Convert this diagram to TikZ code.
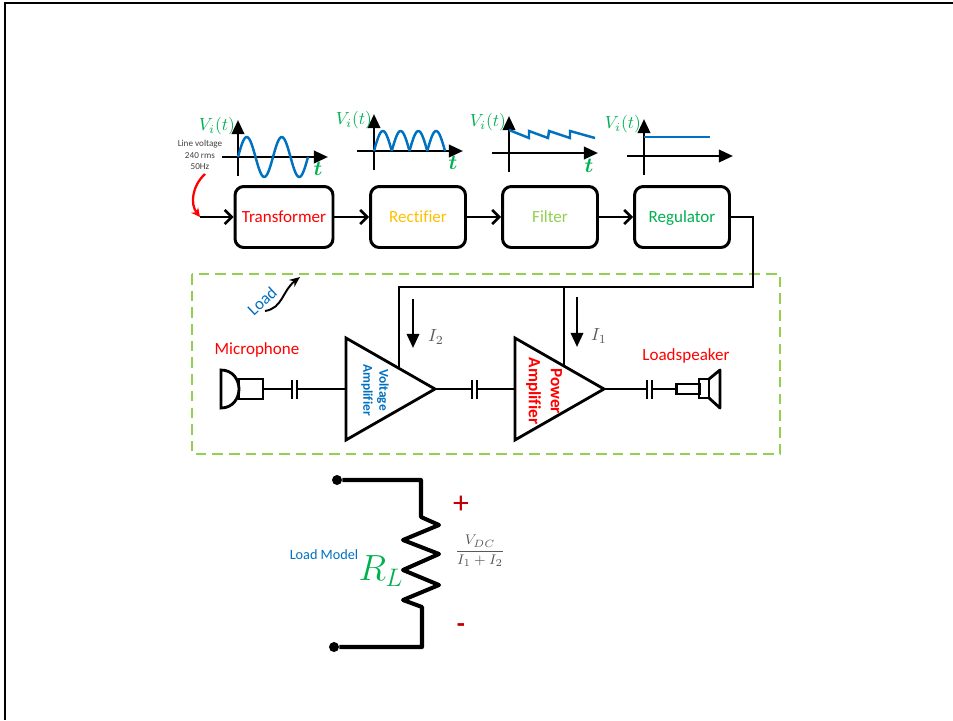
\documentclass[tikz,border=0pt]{standalone}
\usepackage{amsmath,amssymb}
\usepackage{fontspec}
\setmainfont[Ligatures=CommonOff]{Carlito}
\usepackage{tikz}
\usetikzlibrary{arrows.meta,positioning,shapes.geometric,calc}
\definecolor{transred}{RGB}{255,0,0}
\definecolor{rectyellow}{RGB}{255,192,0}
\definecolor{filtgreen}{RGB}{146,208,80}
\definecolor{reggreen}{RGB}{0,176,80}
\definecolor{waveblue}{RGB}{0,112,192}
\definecolor{minusred}{RGB}{192,0,0}
\definecolor{mathgray}{RGB}{89,89,89}
\newcommand{\fsz}[1]{\fontsize{#1}{#1}\selectfont}

\begin{document}
\begin{tikzpicture}[
  x=0.02cm, y=-0.02cm,
  block/.style={draw, line width=1.7pt, rounded corners=5pt, minimum width=1.9cm, minimum height=1.22cm,
                inner sep=0pt, text height=6.2pt, text depth=0pt, font=\fsz{9.7}},
  wire/.style={line width=1.5pt, -{Straight Barb[length=4pt,width=8pt,line width=1.5pt]}},
  plainwire/.style={line width=1.5pt},
  axisline/.style={line width=1.5pt, -{Triangle[length=8pt,width=7pt]}},
  wave/.style={line width=1.4pt, waveblue},
  amp/.style={draw, line width=1.6pt, shape=isosceles triangle, isosceles triangle stretches,
              minimum width=2.04cm, minimum height=1.78cm, inner sep=0pt, outer sep=0pt},
  vlabel/.style={text=reggreen, font=\fsz{10}},
  tlabel/.style={text=reggreen, font=\fsz{13}},
  curr/.style={line width=1.4pt, -{Triangle[length=8pt,width=7pt]}},
]
\useasboundingbox (0,0) rectangle (953,720);

% Slide border
\draw[line width=1.6pt] (953,3) -- (5,3) -- (5,720);

% Blocks
\node[block, text=transred, minimum width=1.96cm] (trans) at (284,217) {Transformer};
\node[block, text=rectyellow] (rect) at (418,217) {Rectifier};
\node[block, text=filtgreen] (filt) at (550,217) {Filter};
\node[block, text=reggreen] (reg) at (682,217) {Regulator};
\coordinate (linein) at (200,217);
\draw[wire] (linein) -- (trans);
\draw[wire] (trans) -- (rect);
\draw[wire] (rect) -- (filt);
\draw[wire] (filt) -- (reg);

% Waveforms
\draw[axisline] (222,157) -- (328,157);
\draw[axisline] (238,176) -- (238,120);
\draw[wave] plot[domain=0:70, samples=80, smooth] ({238+\x},{157-20*sin(\x/35*360)});
\node[vlabel] (v1) at (217,126) {$V_i(t)$};
\node[tlabel] (t1) at (318,169) {$\boldsymbol{t}$};

\draw[axisline] (357,151) -- (463,151);
\draw[axisline] (374,170) -- (374,114);
\foreach \k in {0,...,3} {
  \draw[wave] plot[domain=0:180, samples=30] ({374+\k*17.75+\x/180*17.75},{151-20*sin(\x)});
}
\node[vlabel] (v2) at (354,120) {$V_i(t)$};
\node[tlabel] (t2) at (453,163) {$\boldsymbol{t}$};

\draw[axisline] (492,153) -- (598,153);
\draw[axisline] (509,172) -- (509,116);
\draw[wave] (509,130) -- (529,138) -- (529,131) -- (548,138) -- (549,131) -- (570,138) -- (570,131) -- (595,138);
\node[vlabel] (v3) at (488,122) {$V_i(t)$};
\node[tlabel] (t3) at (589,166) {$\boldsymbol{t}$};

\draw[axisline] (627,156) -- (733,156);
\draw[axisline] (644,175) -- (644,119);
\draw[wave] (644,137) -- (710,137);
\node[vlabel] (v4) at (623,124) {$V_i(t)$};

% Line voltage
\node[align=center, text=black!75, font=\fontsize{5.2}{6.5}\selectfont] (line) at (200,155) {Line voltage\\240 rms\\50Hz};
\draw[line width=1.3pt, transred, -{Stealth[length=5pt,width=5pt]}] (205,174) .. controls (192,186) and (190,204) .. (linein);

% Load box
\draw[filtgreen, line width=0.8pt, dash pattern=on 6pt off 3.5pt] (192,274) rectangle (780,454);
\node[rotate=43, text=waveblue, font=\fsz{9.6}] (load) at (262,301) {Load};
\draw[line width=1.1pt, -{Stealth[length=6pt,width=5pt]}] (265,311) .. controls (283,308) and (282,291) .. (300,277);

% Amplifiers
\node[amp, anchor=lower side] (vamp) at (346,389) {};
\node[amp, anchor=lower side] (pamp) at (515,389) {};
\node[rotate=-90, align=center, text=waveblue, font=\bfseries\fontsize{7.6}{9}\selectfont] (vtxt) at (375,390) {Voltage\\Amplifier};
\node[rotate=-90, align=center, text=transred, font=\bfseries\fontsize{9.8}{12.5}\selectfont] (ptxt) at (544,391) {Power\\Amplifier};

% Supply rail
\coordinate (vtap) at (399,367);
\coordinate (ptap) at (564,365);
\coordinate (railv) at (399,287);
\coordinate (railp) at (564,287);
\draw[plainwire] (reg.east) -| (753,287) -- (railv) -- (vtap);
\draw[plainwire] (railp) -- (ptap);
\draw[curr] (413,299) -- (413,348);
\draw[curr] (577,297) -- (577,347);
\node[text=mathgray, font=\fsz{9.6}] (i2) at (436,337) {$I_2$};
\node[text=mathgray, font=\fsz{9.6}] (i1) at (599,336) {$I_1$};

% Microphone
\draw[line width=1.6pt] (221,370) .. controls (233,370) and (239,380) .. (239,389)
  .. controls (239,398) and (233,408) .. (221,408) -- cycle;
\node[draw, line width=1.6pt, minimum width=0.48cm, minimum height=0.4cm, inner sep=0pt, outer sep=0pt] (micbody) at (251,389) {};
\node[text=transred, font=\fsz{9.7}] (mictxt) at (257,350) {Microphone};

% Capacitors
\foreach \capname/\xa/\xb in {capa/292/297, capb/472/477, capc/647/652} {
  \coordinate (\capname l) at (\xa,389);
  \coordinate (\capname r) at (\xb,389);
  \draw[line width=1.3pt] (\xa,380) -- (\xa,399);
  \draw[line width=1.3pt] (\xb,380) -- (\xb,399);
}
\draw[plainwire] (micbody.east) -- (capal);
\draw[plainwire] (capar) -- (vamp.lower side);
\draw[plainwire] (vamp.apex) -- (capbl);
\draw[plainwire] (capbr) -- (pamp.lower side);
\draw[plainwire] (pamp.apex) -- (capcl);

% Loudspeaker
\node[draw, line width=1.6pt, minimum width=0.46cm, minimum height=0.2cm, inner sep=0pt, outer sep=0pt] (spkbody) at (688,389) {};
\draw[line width=1.6pt] (699,379) rectangle (709,398);
\draw[line width=1.6pt, line join=round] (709,379) -- (720,370) -- (720,408) -- (709,398);
\draw[plainwire] (capcr) -- (spkbody.west);
\node[text=transred, font=\fsz{9.7}] (spktxt) at (686,356) {Loadspeaker};

% Load model
\node[circle, fill, inner sep=0pt, minimum size=0.2cm] (top) at (337,480) {};
\node[circle, fill, inner sep=0pt, minimum size=0.2cm] (bot) at (334,647) {};
\draw[line width=2.3pt, line join=round] (top) -- (421,480) -- (421,517) -- (439,525) -- (403,540) -- (439,554)
  -- (403,570) -- (439,585) -- (403,600) -- (422,607) -- (422,647) -- (bot);
\node[text=waveblue, font=\fsz{8.1}] (modeltxt) at (324,555) {Load Model};
\node[text=reggreen, font=\fsz{20}] (rl) at (381,571) {$R_L$};
\node[text=minusred, font=\fsz{18}] (plus) at (461,505) {+};
\node[text=minusred, font=\bfseries\fsz{15}] (minus) at (461,628) {-};
\node[text=mathgray, font=\fsz{8.5}] (frac) at (480,551) {$\dfrac{V_{DC}}{I_1+I_2}$};
\end{tikzpicture}
\end{document}
